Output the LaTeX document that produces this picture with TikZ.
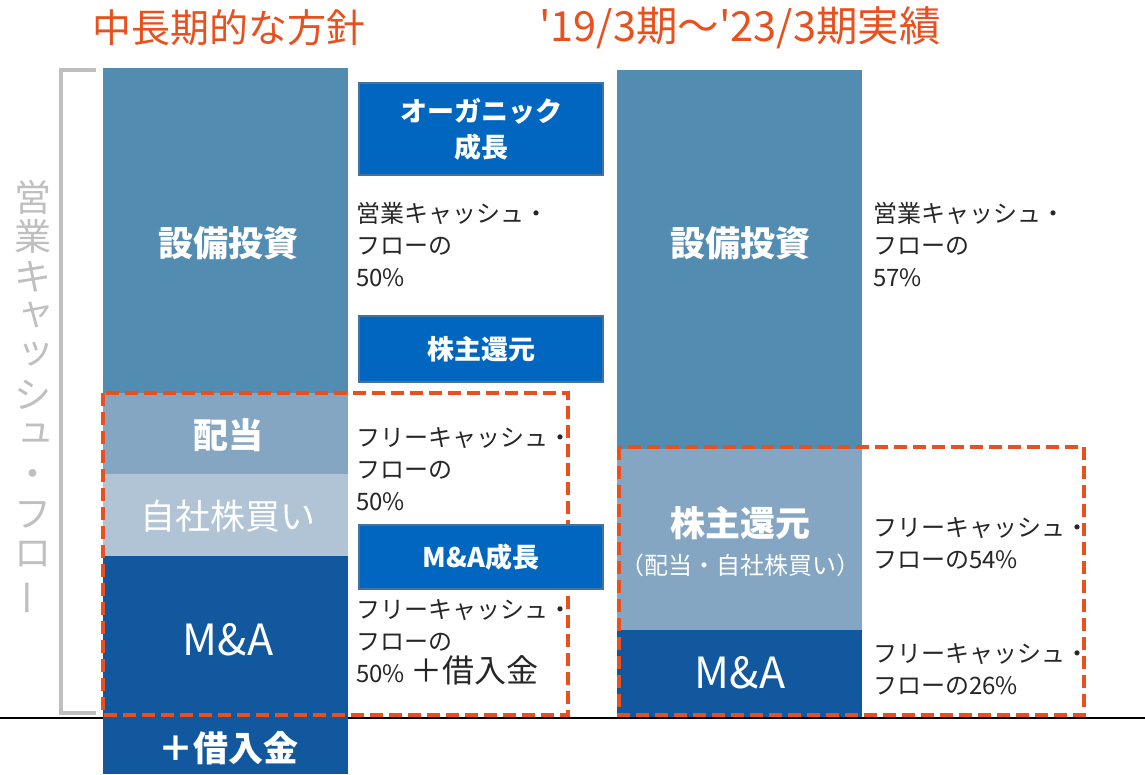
\documentclass[tikz,border=0pt]{standalone}
\usepackage{fontspec}
\setmainfont{Noto Sans CJK JP}[Ligatures=TeXOff]
\usepackage{tikz}

\definecolor{accent}{RGB}{233,80,30}
\definecolor{capex}{RGB}{82,140,176}
\definecolor{divd}{RGB}{133,166,194}
\definecolor{buyb}{RGB}{176,196,214}
\definecolor{mna}{RGB}{18,88,158}
\definecolor{policy}{RGB}{0,102,192}
\definecolor{policyedge}{RGB}{70,114,160}
\definecolor{bracketgray}{RGB}{191,191,191}

% 縦書きの小書き仮名と長音
\newcommand{\smallkana}[1]{\makebox[1em]{\hspace{0.15em}\smash{\raisebox{0.15em}{#1}}}}
\newcommand{\vlong}{\makebox[1em]{\smash{\rotatebox[origin=c]{90}{ー}}}}

\tikzset{
  title/.style={text=accent,font=\fontsize{39}{42}\selectfont},
  bartext/.style={text=white,font=\fontsize{35}{40}\selectfont\bfseries,align=center},
  policybox/.style={fill=policy,draw=policyedge,line width=1.5,minimum width=244,
    text=white,font=\fontsize{27}{36}\selectfont\bfseries,align=center},
  share/.style={anchor=west,align=left,inner sep=0,text=black!85,
    font=\fontsize{24}{32}\selectfont},
  cutline/.style={draw=accent,line width=3.5,dash pattern=on 13 off 6}
}

\begin{document}
\begin{tikzpicture}[x=1pt,y=-1pt]
    \useasboundingbox (0,0) rectangle (1145,774);
    \node[title] (ttlL) at (229,28) {中長期的な方針};
    \node[title,font=\fontsize{41.5}{42}\selectfont] (ttlR) at (740,28) {'19/3期～'23/3期実績};
    \draw[line width=1.2] (0,718)--(1145,718); %基準線
    \draw[bracketgray,line width=4] (96,70)--(61,70)--(61,713)--(96,713);
    \node[text=bracketgray,align=center,inner sep=0,font=\fontsize{37}{39.5}\selectfont] (vcf) at (33,393)
      {営\\業\\キ\\\smallkana{ャ}\\\smallkana{ッ}\\シ\\\smallkana{ュ}\\・\\フ\\ロ\\\vlong};
    % 中長期的な方針
    \fill[capex] (103,68) rectangle (348,393);
    \fill[divd] (103,393) rectangle (348,474);
    \fill[buyb] (103,474) rectangle (348,556);
    \fill[mna] (103,556) rectangle (348,774);
    \node[bartext] (capexL) at (228,243) {設備投資};
    \node[bartext] (divL) at (228,435) {配当};
    \node[bartext,font=\fontsize{35}{40}\selectfont] (buyL) at (228,516) {自社株買い};
    \node[bartext,font=\fontsize{43}{44}\selectfont] (mnaL) at (228,640) {M\&A};
    \node[bartext] (debtL) at (228,748) {＋借入金};
    % 実績
    \fill[capex] (617,70) rectangle (862,449);
    \fill[divd] (617,449) rectangle (862,630);
    \fill[mna] (617,630) rectangle (862,717);
    \node[bartext] (capexR) at (740,243) {設備投資};
    \node[bartext] (retR) at (740,523) {株主還元};
    \node[text=white,font=\fontsize{24}{28}\selectfont] (retsubR) at (740,565) {（配当・自社株買い）};
    \node[bartext,font=\fontsize{43}{44}\selectfont] (mnaR) at (740,673) {M\&A};
    \draw[cutline] (103,393) rectangle (568,715);
    \draw[cutline] (619,447) rectangle (1084,715);
    \node[policybox,minimum height=92] (organic) at (481,129) {オーガニック\\成長};
    \node[policybox,minimum height=66] (ret) at (481,349) {株主還元};
    \node[policybox,minimum height=64] (mnagrow) at (481,557) {M\&A成長};
    \node[share] (ocfL) at (356,245) {営業キャッシュ・\\フローの\\50\%};
    \node[share] (fcfL1) at (356,469) {フリーキャッシュ・\\フローの\\50\%};
    \node[share] (fcfL2) at (356,642) {フリーキャッシュ・\\フローの\\50\% {\fontsize{32}{32}\selectfont ＋借入金}};
    \node[share] (ocfR) at (873,245) {営業キャッシュ・\\フローの\\57\%};
    \node[share] (fcfR1) at (873,543) {フリーキャッシュ・\\フローの54\%};
    \node[share] (fcfR2) at (873,669) {フリーキャッシュ・\\フローの26\%};
\end{tikzpicture}
\end{document}
